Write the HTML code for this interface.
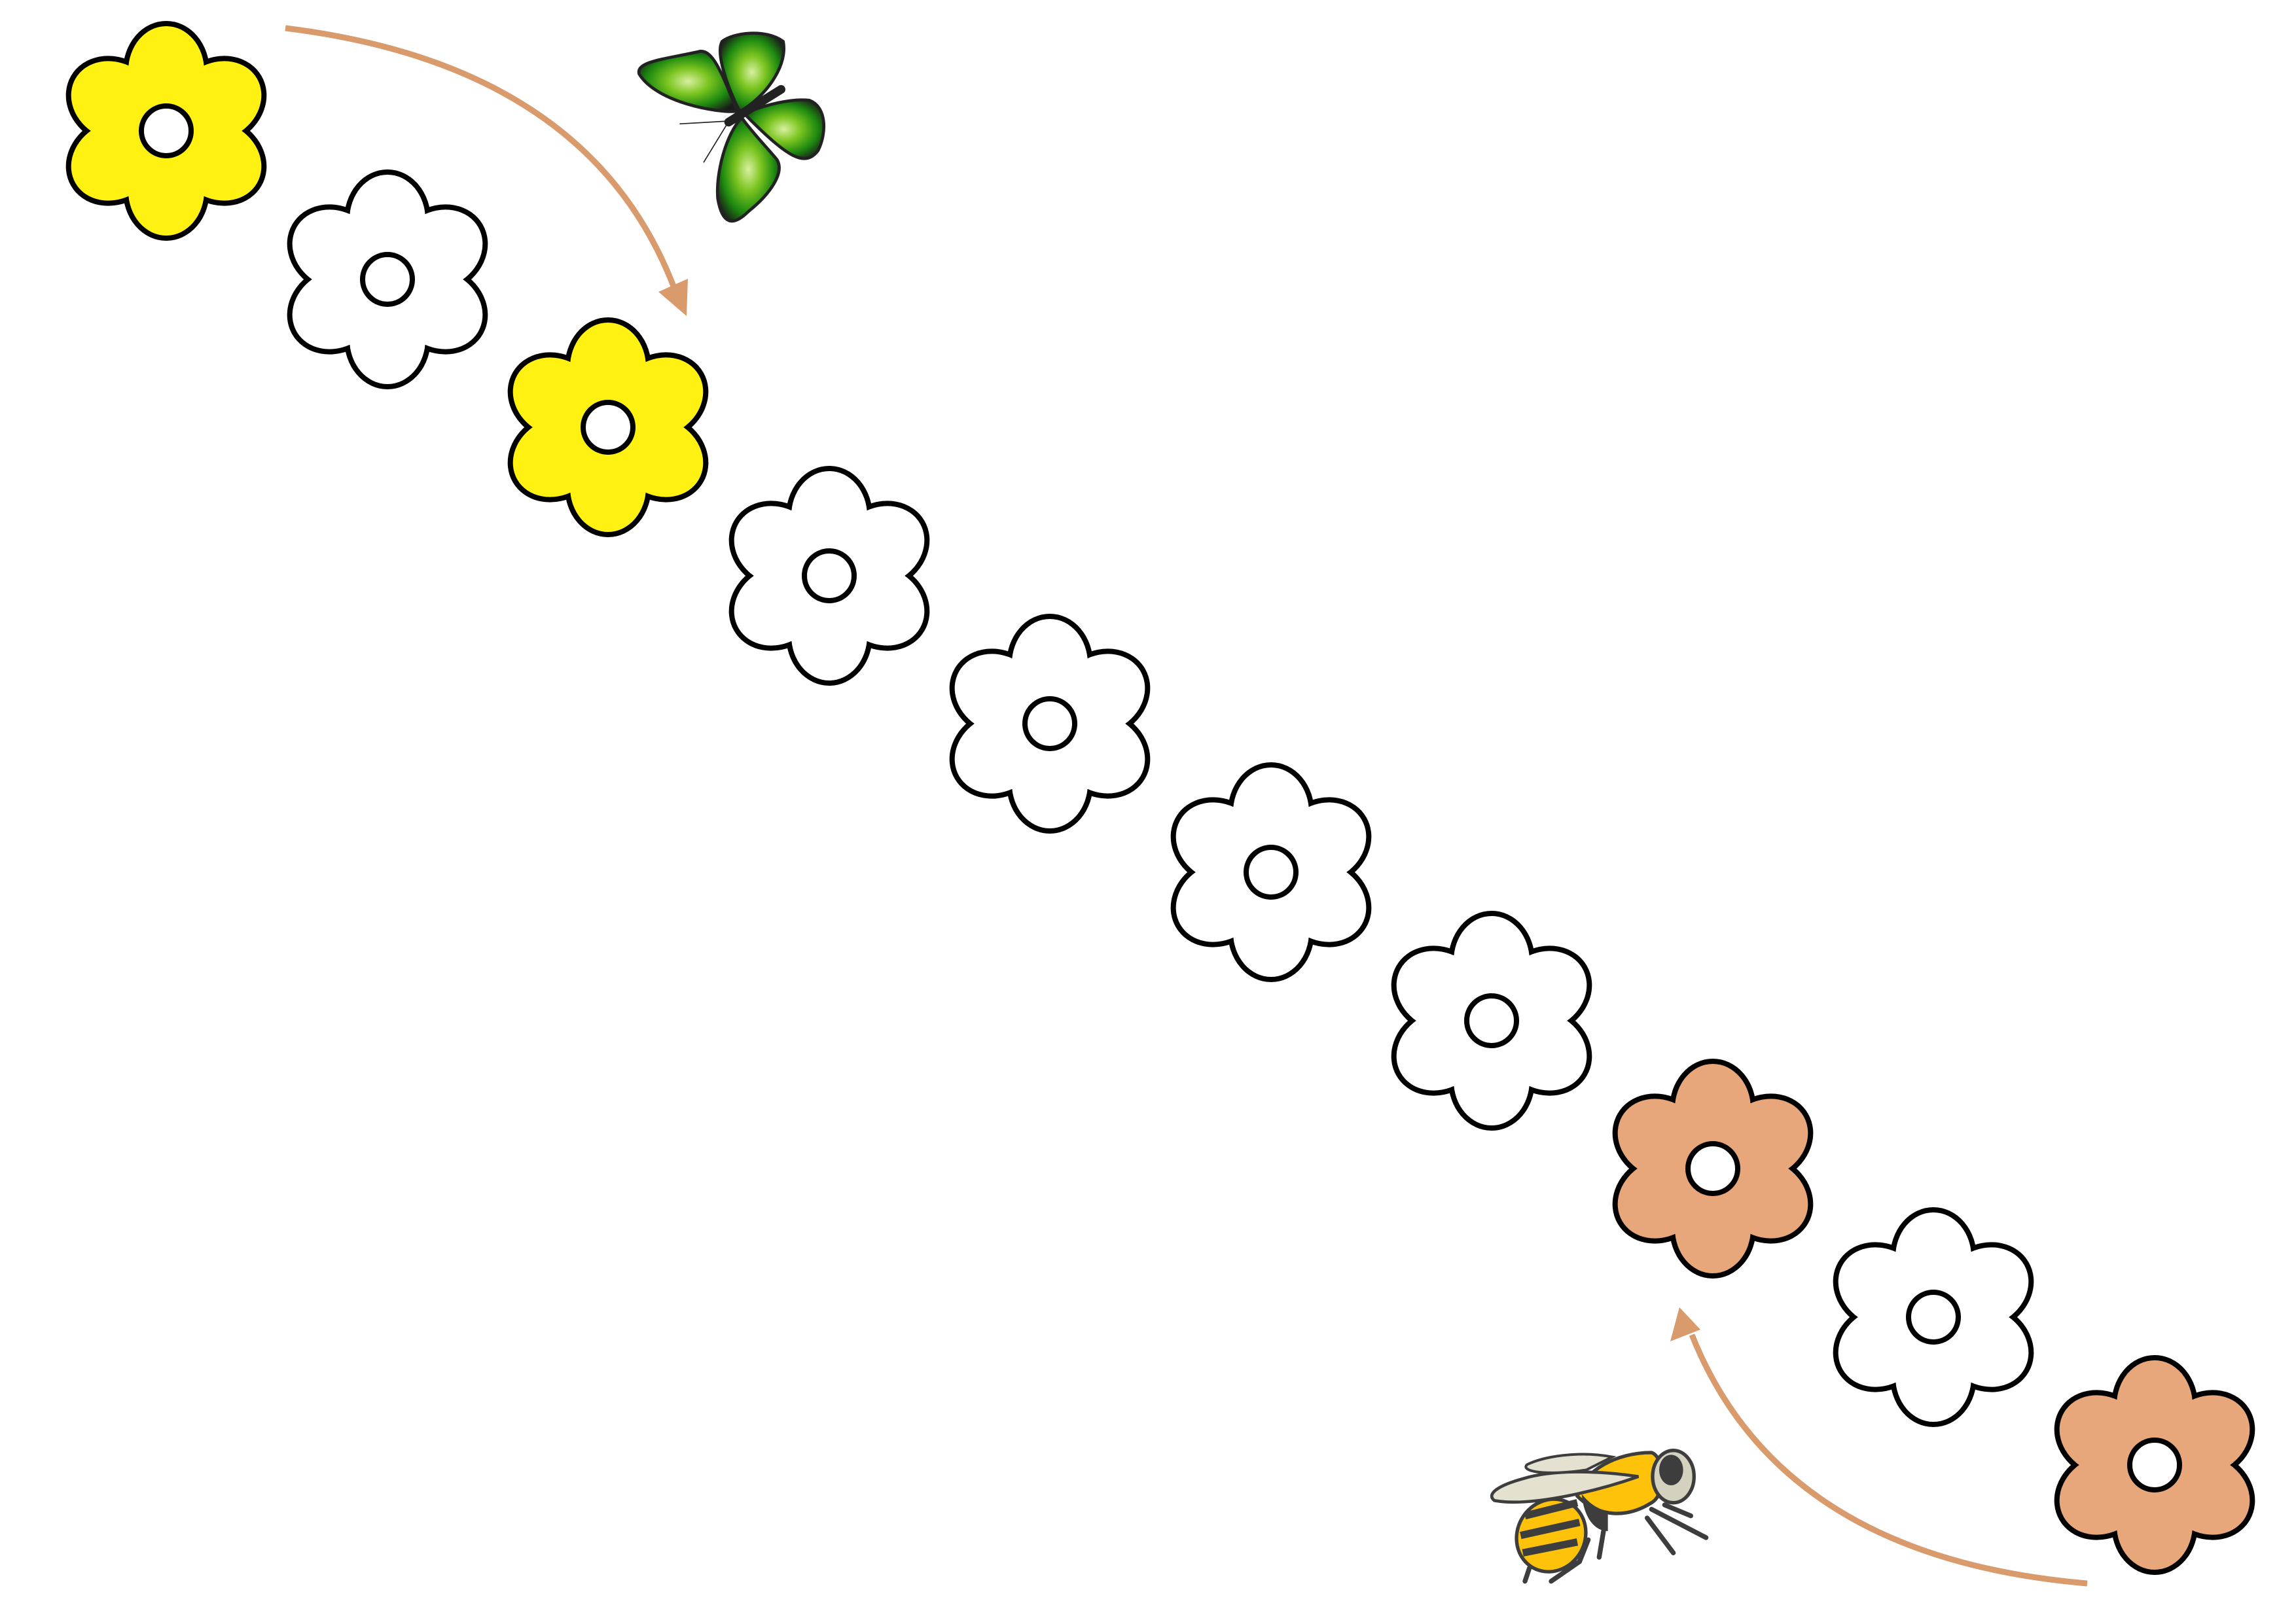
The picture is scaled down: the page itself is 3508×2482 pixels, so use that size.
<!DOCTYPE html>
<html><head><meta charset="utf-8"><style>
html,body{margin:0;padding:0;background:#fff;}
svg{display:block;}
</style></head><body>
<svg width="3508" height="2482" viewBox="0 0 3508 2482" xmlns="http://www.w3.org/2000/svg">
<defs>
  <g id="petals">
    <ellipse cx="0" cy="-92" rx="58" ry="68"/>
    <ellipse cx="0" cy="-92" rx="58" ry="68" transform="rotate(60)"/>
    <ellipse cx="0" cy="-92" rx="58" ry="68" transform="rotate(120)"/>
    <ellipse cx="0" cy="-92" rx="58" ry="68" transform="rotate(180)"/>
    <ellipse cx="0" cy="-92" rx="58" ry="68" transform="rotate(240)"/>
    <ellipse cx="0" cy="-92" rx="58" ry="68" transform="rotate(300)"/>
    <circle r="95"/>
  </g>
  <g id="fy"><use href="#petals" fill="#000" stroke="#000" stroke-width="16"/><use href="#petals" fill="#FFF212"/><circle r="38" fill="#fff" stroke="#000" stroke-width="8"/></g>
  <g id="fw"><use href="#petals" fill="#000" stroke="#000" stroke-width="16"/><use href="#petals" fill="#fff"/><circle r="38" fill="#fff" stroke="#000" stroke-width="8"/></g>
  <g id="fo"><use href="#petals" fill="#000" stroke="#000" stroke-width="16"/><use href="#petals" fill="#E8A77A"/><circle r="38" fill="#fff" stroke="#000" stroke-width="8"/></g>
  <radialGradient id="wg" cx="0.5" cy="0.5" r="0.6">
    <stop offset="0" stop-color="#d8f0a0"/><stop offset="0.35" stop-color="#7cc520"/><stop offset="0.7" stop-color="#1e8a10"/><stop offset="1" stop-color="#1a1a1a"/>
  </radialGradient>
</defs>

<use href="#fy" x="254" y="200"/>
<use href="#fw" x="592" y="427"/>
<use href="#fy" x="929" y="653"/>
<use href="#fw" x="1267" y="880"/>
<use href="#fw" x="1604" y="1106"/>
<use href="#fw" x="1942" y="1333"/>
<use href="#fw" x="2279" y="1560"/>
<use href="#fo" x="2617" y="1786"/>
<use href="#fw" x="2954" y="2013"/>
<use href="#fo" x="3292" y="2239"/>

<!-- arrows -->
<path d="M436,43 Q 900,100 1030,440" fill="none" stroke="#D99A6C" stroke-width="9"/>
<polygon points="1049,483 1006,446 1051,426" fill="#D99A6C"/>
<path d="M3189,2420 Q 2720,2380 2585,2040" fill="none" stroke="#D99A6C" stroke-width="9"/>
<polygon points="2566,1998 2552,2050 2598,2032" fill="#D99A6C"/>

<!-- butterfly -->
<g transform="translate(970,30) scale(0.3333)">
  <g stroke="#222" stroke-width="14" fill="url(#wg)">
    <path d="M470,420 C380,430 100,380 20,250 C0,190 150,180 300,145 C360,140 400,250 470,420Z"/>
    <path d="M480,420 C420,300 370,150 400,100 C450,60 600,40 680,100 C700,200 620,330 500,410Z"/>
    <path d="M500,430 C600,390 720,360 800,370 C880,400 880,520 840,600 C780,680 700,630 520,450Z"/>
    <path d="M490,450 C420,520 370,700 380,820 C400,940 450,950 520,880 C620,800 690,700 650,640 C600,580 540,520 490,450Z"/>
  </g>
  <path d="M430,470 L670,320" stroke="#222" stroke-width="40" stroke-linecap="round"/>
  <path d="M430,465 L205,478 M425,475 L315,655" stroke="#222" stroke-width="5" fill="none"/>
</g>

<!-- bee -->
<g transform="translate(2270,2200) scale(0.3333)">
  <path d="M180,650 L200,590 M300,650 L430,560 L470,460 M520,540 L540,420 M740,360 L860,520 M760,320 L1010,450 M820,300 L940,350" stroke="#3d3d3d" stroke-width="22" fill="none" stroke-linecap="round"/>
  <ellipse cx="300" cy="440" rx="155" ry="170" fill="#FFC20A" stroke="#3d3d3d" stroke-width="16" transform="rotate(30 300 440)"/>
  <path d="M180,350 L420,290 M160,440 L430,380 M170,520 L420,470" stroke="#3d3d3d" stroke-width="34"/>
  <path d="M420,260 C450,140 600,60 760,60 C820,80 830,250 760,290 C650,360 520,360 420,260Z" fill="#FFC20A" stroke="#3d3d3d" stroke-width="16"/>
  <path d="M440,250 C480,300 520,320 560,330 L560,420 C500,420 450,360 440,250Z" fill="#3d3d3d"/>
  <ellipse cx="860" cy="170" rx="95" ry="120" fill="#d5d1bf" stroke="#3d3d3d" stroke-width="16"/>
  <ellipse cx="850" cy="140" rx="55" ry="70" fill="#3d3d3d"/>
  <path d="M700,170 C500,140 300,140 170,180 C60,210 0,250 40,280 C200,310 500,240 700,170Z" fill="#e4e1d1" stroke="#3d3d3d" stroke-width="14"/>
  <path d="M580,80 C420,50 260,80 190,115 C160,140 240,170 460,140Z" fill="#e4e1d1" stroke="#3d3d3d" stroke-width="12"/>
</g>
</svg>
</body></html>
